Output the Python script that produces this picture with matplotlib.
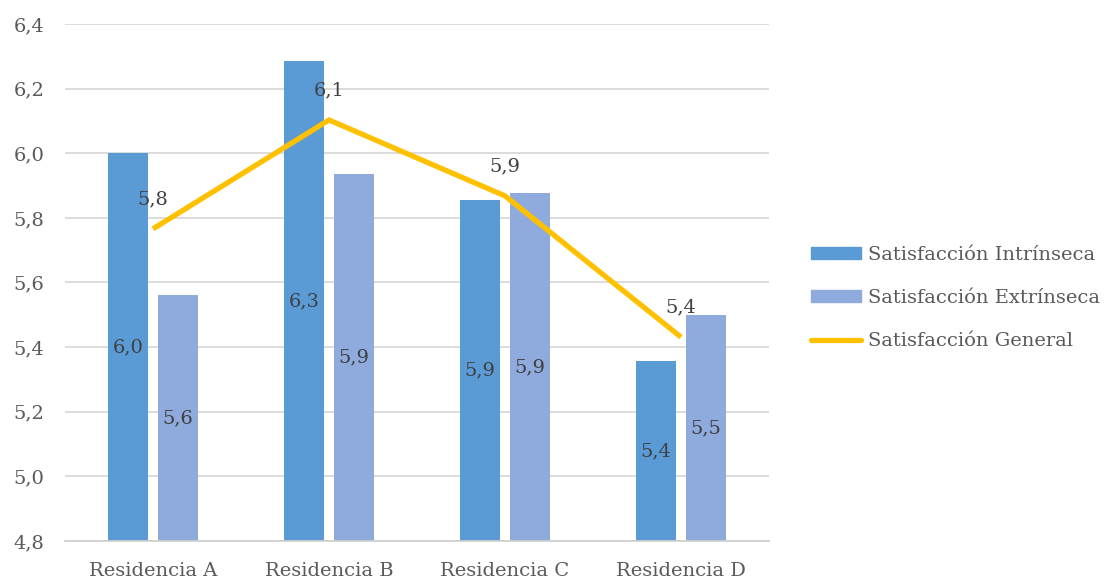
import matplotlib
matplotlib.use("Agg")
import matplotlib.pyplot as plt
import numpy as np
from matplotlib.patches import Patch
from matplotlib.lines import Line2D

categories = ["Residencia A", "Residencia B", "Residencia C", "Residencia D"]
intrinseca = [6.00, 6.286, 5.856, 5.357]
extrinseca = [5.562, 5.936, 5.877, 5.499]
general = [5.766, 6.103, 5.868, 5.431]
series_names = ["Satisfacción Intrínseca", "Satisfacción Extrínseca", "Satisfacción General"]
yticks = [4.8, 5.0, 5.2, 5.4, 5.6, 5.8, 6.0, 6.2, 6.4]

c_int = "#5B9BD5"
c_ext = "#8FAADC"
c_gen = "#FFC000"
txt = "#595959"
font = "DejaVu Serif"
fs = 14

def fmt(v):
    return f"{v:.1f}".replace(".", ",")

fig = plt.figure(figsize=(11.06, 5.81), dpi=100)
ax = fig.add_axes([65/1106, 40/581, 704/1106, 517/581])
x = np.arange(len(categories))
bw = 0.227
off = 0.142
ax.bar(x - off, [v - 4.8 for v in intrinseca], bw, bottom=4.8, color=c_int, zorder=2)
ax.bar(x + off, [v - 4.8 for v in extrinseca], bw, bottom=4.8, color=c_ext, zorder=2)
ax.plot(x, general, color=c_gen, lw=3.8, solid_capstyle="butt", solid_joinstyle="miter", zorder=3)

for xi, v in zip(x, intrinseca):
    ax.text(xi - off, (4.8 + v) / 2, fmt(v), ha="center", va="center", color="#404040",
            family=font, fontsize=fs, zorder=4)
for xi, v in zip(x, extrinseca):
    ax.text(xi + off, (4.8 + v) / 2, fmt(v), ha="center", va="center", color="#404040",
            family=font, fontsize=fs, zorder=4)
for xi, v in zip(x, general):
    ax.annotate(fmt(v), (xi, v), xytext=(0, 30), textcoords="offset pixels",
                ha="center", va="center", color="#404040", family=font, fontsize=fs, zorder=4)

ax.set_xlim(-0.5, len(categories) - 0.5)
ax.set_ylim(4.8, 6.4)
ax.set_yticks(yticks)
ax.set_yticklabels([fmt(t) for t in yticks], family=font, fontsize=fs, color=txt)
ax.set_xticks(x)
ax.set_xticklabels(categories, family=font, fontsize=fs, color=txt)
ax.tick_params(length=0)
ax.tick_params(axis="x", pad=15)
ax.tick_params(axis="y", pad=15)
ax.grid(axis="y", color="#D9D9D9", lw=1.3, zorder=0)
ax.set_axisbelow(True)
for s in ["top", "right", "left"]:
    ax.spines[s].set_visible(False)
ax.spines["bottom"].set_color("#D0D0D0")
ax.spines["bottom"].set_linewidth(1.3)

handles = [Patch(color=c_int), Patch(color=c_ext),
           Line2D([0], [0], color=c_gen, lw=3.8, solid_capstyle="round")]
fig.legend(handles, series_names, loc="center left", bbox_to_anchor=(793/1106, 1 - 298/581),
           frameon=False, prop={"family": font, "size": fs}, labelcolor=txt,
           handlelength=2.6, handleheight=0.6, handletextpad=0.35, labelspacing=1.3)

fig.savefig("out.png", dpi=100)
